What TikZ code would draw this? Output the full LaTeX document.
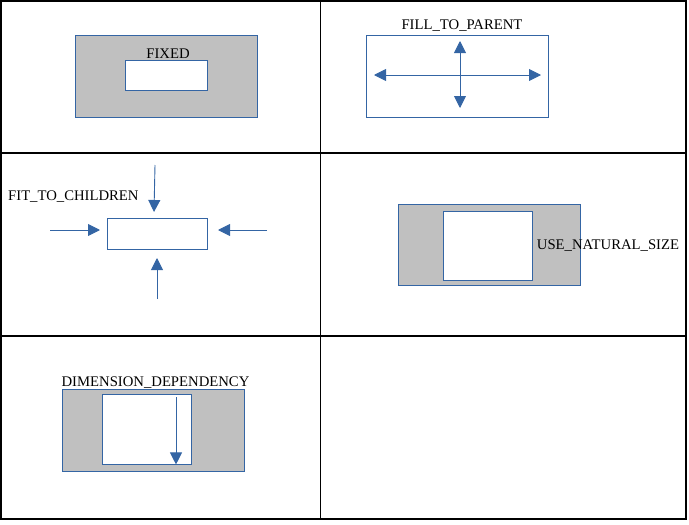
\documentclass[tikz,border=0pt]{standalone}
\usepackage{fontspec}
\setmainfont{Liberation Serif}
\usepackage{tikz}
\usetikzlibrary{arrows.meta}
\definecolor{lineblue}{RGB}{52,101,164}
\definecolor{boxgray}{RGB}{192,192,192}

\tikzset{
  outerbox/.style={draw=lineblue, fill=boxgray, line width=0.9pt, inner sep=0pt},
  innerbox/.style={draw=lineblue, fill=white, line width=0.9pt, inner sep=0pt},
  emptybox/.style={draw=lineblue, line width=0.9pt, inner sep=0pt},
  label/.style={font=\fontsize{14.7pt}{17pt}\selectfont, inner sep=0pt},
  arr/.style={draw=lineblue, line width=0.9pt, -{Triangle[length=12pt,width=12pt]}},
  dblarr/.style={draw=lineblue, line width=0.9pt, {Triangle[length=12pt,width=12pt]}-{Triangle[length=12pt,width=12pt]}}
}

\begin{document}
\begin{tikzpicture}[x=1pt,y=-1pt]
  \useasboundingbox (0,0) rectangle (689,525);
  % table grid
  \draw[line width=1.2pt] (1,1) rectangle (686,519);
  \draw[line width=1.2pt] (320.5,1) -- (320.5,519);
  \draw[line width=1.2pt] (1,153) -- (686,153);
  \draw[line width=1.2pt] (1,336) -- (686,336);

  % FIXED
  \node[outerbox, minimum width=182pt, minimum height=82pt] (fixedOuter) at (166,76) {};
  \node[innerbox, minimum width=82pt, minimum height=30pt] (fixedInner) at (166,75) {};
  \node[label] (fixedText) at (168,53.5) {FIXED};

  % FILL_TO_PARENT
  \node[emptybox, minimum width=182pt, minimum height=82pt] (fillBox) at (457,76) {};
  \node[label] (fillText) at (462,25.5) {FILL\_TO\_PARENT};
  \coordinate (fillLeft) at (374,75);
  \coordinate (fillRight) at (541,75);
  \coordinate (fillTop) at (460,41);
  \coordinate (fillBottom) at (460,108);
  \draw[dblarr] (fillLeft) -- (fillRight);
  \draw[dblarr] (fillTop) -- (fillBottom);

  % FIT_TO_CHILDREN
  \node[emptybox, minimum width=100pt, minimum height=31pt] (fitBox) at (157,233.5) {};
  \node[label, anchor=west] (fitText) at (8,196.5) {FIT\_TO\_CHILDREN};
  \coordinate (fitTop) at (155,165);
  \coordinate (fitLeft) at (50,230);
  \coordinate (fitRight) at (267,230);
  \coordinate (fitBottom) at (157,299);
  \draw[arr] (fitTop) -- (154,212);
  \draw[arr] (fitLeft) -- (100,230);
  \draw[arr] (fitRight) -- (218,230);
  \draw[arr] (fitBottom) -- (157,258);

  % USE_NATURAL_SIZE
  \node[outerbox, minimum width=182pt, minimum height=81pt] (natOuter) at (489,244.5) {};
  \node[innerbox, minimum width=89pt, minimum height=69pt] (natInner) at (487.5,245.5) {};
  \node[label] (natText) at (608,245.5) {USE\_NATURAL\_SIZE};

  % DIMENSION_DEPENDENCY
  \node[outerbox, minimum width=182pt, minimum height=82pt] (dimOuter) at (153,430) {};
  \node[innerbox, minimum width=89pt, minimum height=70pt] (dimInner) at (146.5,429) {};
  \node[label] (dimText) at (155.5,382.5) {DIMENSION\_DEPENDENCY};
  \coordinate (dimTop) at (176,397);
  \draw[arr] (dimTop) -- (dimInner.south -| dimTop);
\end{tikzpicture}
\end{document}
